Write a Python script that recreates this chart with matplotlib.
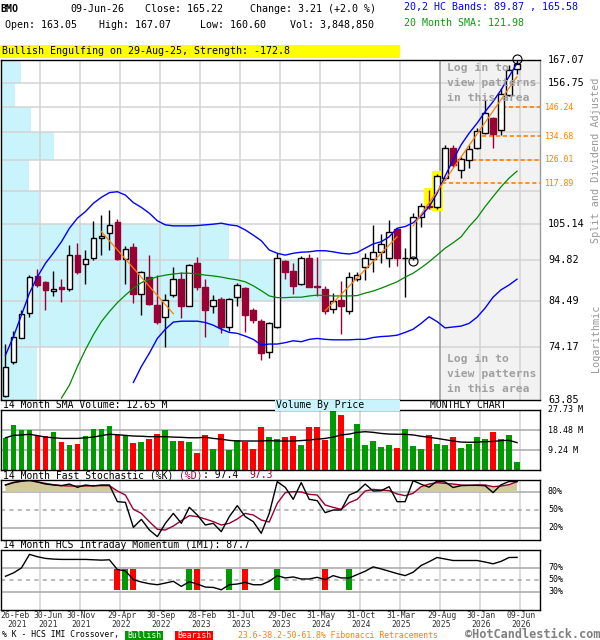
import matplotlib
matplotlib.use('Agg')
import matplotlib.pyplot as plt
from matplotlib.patches import Rectangle
from matplotlib.transforms import blended_transform_factory as btf
from matplotlib.ticker import NullLocator
import numpy as np

plt.rcParams['font.family'] = ['DejaVu Sans Mono']
plt.rcParams['lines.scale_dashes'] = False

# ---------------- data (monthly, Feb-2021 .. Jun-2026) ----------------
opens = [64.6, 71.0, 76.1, 81.6, 90.8, 89.2, 87.0, 88.0, 87.5, 96.2,
         93.7, 95.3, 101.0, 102.4, 105.6, 95.1, 98.4, 86.2, 90.5, 83.5,
         80.7, 86.0, 89.9, 83.3, 94.0, 87.8, 83.3, 85.0, 78.5, 85.4,
         87.7, 82.4, 79.9, 73.2, 78.5, 94.6, 92.0, 88.7, 95.5, 88.2,
         87.5, 82.7, 84.7, 82.2, 89.9, 93.0, 95.1, 97.1, 95.3, 103.5,
         95.3, 95.4, 107.3, 110.6, 110.1, 119.6, 130.3, 122.5, 126.0, 130.2,
         135.8, 141.9, 137.2, 151.3, 163.05]
highs = [74.9, 77.6, 82.3, 90.9, 92.6, 89.3, 92.0, 89.9, 98.9, 99.5,
         97.6, 105.8, 107.9, 109.3, 106.5, 98.8, 99.6, 92.0, 96.2, 90.9,
         86.3, 92.9, 91.8, 93.8, 95.8, 90.0, 86.0, 85.4, 85.2, 88.9,
         87.9, 82.8, 80.2, 79.7, 96.9, 94.9, 94.2, 95.9, 96.5, 95.6,
         88.1, 86.5, 89.5, 91.6, 91.6, 96.9, 104.8, 102.1, 106.3, 103.8,
         98.1, 108.4, 111.4, 115.5, 121.0, 131.4, 131.4, 127.0, 131.4, 138.0,
         149.2, 142.2, 154.2, 164.7, 167.07]
lows = [64.4, 70.7, 76.0, 80.8, 87.9, 82.3, 85.6, 84.2, 86.8, 91.3,
        88.7, 94.9, 96.2, 97.6, 94.9, 88.7, 83.9, 81.2, 83.5, 79.2,
        74.2, 85.4, 80.5, 83.2, 87.2, 76.2, 81.6, 77.1, 77.6, 83.3,
        77.4, 79.3, 71.5, 71.9, 78.2, 89.8, 86.2, 88.4, 87.8, 85.6,
        81.5, 81.6, 76.9, 81.4, 89.3, 89.7, 91.7, 94.0, 93.0, 93.3,
        85.4, 94.9, 104.1, 109.6, 109.5, 119.0, 123.6, 119.8, 123.0, 129.8,
        135.5, 130.1, 135.0, 150.8, 160.60]
closes = [70.1, 76.3, 81.4, 90.3, 88.3, 87.2, 87.3, 87.4, 96.2, 91.7,
          95.1, 101.0, 101.6, 104.9, 95.1, 97.8, 86.2, 91.7, 83.8, 79.7,
          84.7, 89.9, 83.2, 93.5, 87.9, 82.3, 84.7, 78.4, 85.0, 88.3,
          81.3, 80.1, 73.0, 79.3, 95.3, 91.8, 88.1, 95.3, 88.0, 87.9,
          82.2, 84.5, 83.4, 90.3, 91.0, 95.4, 97.0, 99.4, 102.7, 95.5,
          95.5, 107.2, 110.6, 110.3, 120.5, 130.1, 124.2, 126.2, 129.7, 136.6,
          144.0, 135.4, 151.9, 162.4, 165.22]

upper_band = [72.5, 76.4, 81.2, 86.4, 90.5, 94.0, 96.8, 99.9, 103.8, 106.8,
              108.8, 111.4, 113.3, 114.8, 115.1, 114.0, 111.6, 110.1, 108.3, 106.0,
              104.8, 104.5, 104.5, 104.5, 104.6, 104.8, 105.0, 105.3, 104.8, 104.5,
              103.3, 101.8, 100.2, 97.6, 96.7, 96.2, 96.7, 97.0, 97.1, 97.4,
              97.4, 97.1, 96.7, 96.5, 96.9, 98.1, 99.3, 99.9, 101.3, 103.8,
              104.3, 105.4, 107.5, 110.3, 114.6, 120.3, 125.9, 131.4, 135.8, 139.7,
              144.3, 148.5, 153.5, 159.4, 165.58]
lower_band_start = 16
lower_band = [67.1, 70.2, 72.9, 76.0, 78.0, 79.6, 79.8, 79.8, 79.8, 79.5,
              78.9, 78.0, 77.3, 77.1, 76.5, 75.8, 74.6, 74.8, 74.8, 75.1,
              75.5, 75.3, 75.8, 76.0, 75.8, 75.7, 75.7, 75.7, 75.8, 75.8,
              76.2, 76.4, 76.5, 76.7, 77.3, 78.0, 79.3, 80.8, 79.7, 78.3,
              78.5, 78.7, 79.3, 80.7, 82.8, 85.4, 87.2, 88.4, 89.87]
sma_start = 7
sma20 = [64.2, 66.6, 70.2, 73.6, 76.8, 79.7, 82.0, 84.1, 85.9, 87.6,
         89.0, 89.8, 90.5, 90.9, 91.2, 91.4, 91.4, 91.2, 90.9, 90.7,
         90.4, 90.0, 89.7, 89.2, 88.2, 87.0, 85.7, 85.3, 85.3, 85.4,
         85.4, 85.7, 85.9, 85.8, 85.7, 85.7, 85.7, 85.8, 86.4, 86.9,
         87.6, 88.4, 89.2, 90.4, 91.4, 92.8, 94.4, 96.2, 98.1, 99.6,
         101.3, 104.3, 106.9, 110.3, 113.5, 116.7, 119.6, 121.98]

# volume by price (relative), bands from 63.85 upward, step 10.32
vbp_volume = [37, 229, 322, 229, 39, 29, 54, 31, 15, 21]

volume_m = [14.9, 20.8, 18.5, 18.5, 15.7, 15.7, 17.6, 12.9, 11.6, 12.0,
            15.7, 18.9, 18.9, 20.3, 16.3, 15.7, 12.5, 12.9, 14.5, 16.6,
            18.5, 13.4, 13.4, 12.9, 7.9, 16.2, 9.7, 16.6, 9.2, 13.9,
            13.1, 9.7, 19.9, 15.2, 14.5, 15.2, 15.7, 11.6, 19.9, 19.9,
            13.9, 27.7, 25.4, 14.8, 21.3, 11.6, 13.4, 10.6, 11.6, 10.2,
            18.9, 11.1, 9.7, 16.2, 12.0, 11.6, 15.2, 10.2, 12.0, 15.2,
            14.3, 17.6, 14.3, 16.2, 3.85]
vol_sma_m = [14.9, 16.0, 16.2, 16.5, 15.9, 15.2, 14.9, 14.6, 14.6, 14.6,
             14.9, 15.2, 15.9, 16.5, 16.3, 16.0, 15.7, 15.6, 15.4, 15.4,
             15.4, 15.2, 15.1, 14.9, 14.9, 15.1, 14.6, 14.2, 13.7, 13.4,
             13.4, 13.4, 13.4, 13.6, 13.4, 13.4, 13.4, 13.6, 13.9, 14.2,
             14.6, 15.2, 16.2, 16.6, 17.4, 17.7, 17.4, 16.9, 16.6, 16.5,
             16.5, 16.2, 15.6, 15.1, 14.6, 14.0, 13.4, 12.9, 12.8, 12.9,
             13.1, 13.2, 13.6, 13.7, 12.65]

stoch_k = [91.7, 95.6, 98.3, 100.0, 96.7, 93.3, 91.7, 90.6, 93.3, 87.8,
           91.7, 90.0, 91.7, 91.7, 63.9, 62.8, 21.1, 34.4, 16.7, 5.6,
           27.8, 44.4, 27.8, 54.4, 41.7, 25.0, 27.8, 13.9, 38.9, 57.2,
           38.9, 30.6, 11.1, 44.4, 97.2, 87.8, 67.8, 95.6, 67.8, 65.6,
           45.6, 50.0, 50.0, 75.0, 80.6, 93.3, 81.7, 82.2, 88.9, 63.9,
           63.9, 98.9, 93.0, 88.0, 98.3, 96.7, 87.5, 90.6, 91.1, 91.1,
           90.5, 79.0, 92.0, 97.5, 97.4]
stoch_d = [91.7, 96.1, 97.8, 98.9, 96.7, 94.4, 92.2, 90.6, 90.0, 90.0,
           90.0, 90.6, 90.6, 90.6, 81.7, 75.0, 51.1, 44.4, 30.6, 17.8,
           16.7, 23.3, 32.2, 40.6, 38.9, 35.0, 30.6, 25.0, 27.8, 35.0,
           44.4, 41.7, 33.3, 30.0, 61.1, 78.9, 80.6, 80.0, 76.1, 75.0,
           58.3, 54.4, 51.1, 62.2, 67.8, 81.7, 84.4, 83.3, 82.2, 76.7,
           73.9, 77.8, 88.9, 93.3, 95.6, 94.4, 93.3, 91.7, 91.1, 91.7,
           91.7, 88.9, 90.0, 92.2, 97.3]
imi = [56.2, 61.8, 70.2, 92.7, 88.8, 86.0, 84.8, 84.3, 84.3, 84.3,
       84.3, 83.7, 83.1, 83.7, 67.4, 65.2, 50.6, 46.6, 43.8, 42.1,
       44.9, 47.8, 39.3, 47.2, 43.3, 38.2, 37.6, 33.7, 42.1, 43.3,
       46.1, 42.1, 42.1, 47.8, 57.3, 53.4, 55.1, 51.7, 51.7, 54.5,
       50.6, 57.3, 53.4, 53.4, 59.0, 64.6, 71.9, 68.5, 64.6, 60.7,
       57.3, 62.9, 74.2, 80.5, 87.5, 85.0, 82.5, 82.5, 82.5, 82.5,
       80.0, 77.0, 81.0, 87.5, 87.7]
xover_idx = [14, 15, 16, 23, 24, 28, 30, 34, 40, 43]
xover_kind = ['bear', 'bull', 'bear', 'bull', 'bear', 'bull', 'bear', 'bull', 'bear', 'bull']

fib_levels = [117.89, 126.01, 134.68, 146.24]
fib_start = [54.6, 57.5, 59.6, 62.1]
trend_lines = [(12, 102.8, 21, 81.5), (40, 82.2, 49, 101.3), (51, 104.5, 64, 159.4)]
pattern_circles = [(51, 94.6), (64, 167.4)]
engulf_idx = [53, 54]

price_labels = [167.07, 156.75, 105.14, 94.82, 84.49, 74.17, 63.85]
date_top = ['26-Feb', '30-Jun', '30-Nov', '29-Apr', '30-Sep', '28-Feb', '31-Jul',
            '29-Dec', '31-May', '31-Oct', '31-Mar', '29-Aug', '30-Jan', '09-Jun']
date_bot = ['2021', '2021', '2021', '2022', '2022', '2023', '2023',
            '2023', '2024', '2024', '2025', '2025', '2026', '2026']

# ---------------- colours ----------------
RED_C = '#990033'
VOL_G = '#009900'
VOL_R = '#ff0000'
BLUE = '#0000ff'
GREEN = '#008800'
ORANGE = '#ff8000'
CYAN = '#c9f4fb'
GRID = '#d3d3d3'
KHAKI = '#cfcb9b'

W, H = 600, 640
fig = plt.figure(figsize=(W / 100, H / 100), dpi=100)
fig.patch.set_facecolor('white')


def fx(x):
    return x / W


def fy(y):
    return 1 - y / H


XMIN, XMAX = -0.625, 66.875
vgrid = [5 * k - 0.625 for k in range(1, 14)]


def panel(x0, y0, x1, y1):
    a = fig.add_axes([fx(x0), fy(y1), fx(x1) - fx(x0), fy(y0) - fy(y1)])
    a.set_xlim(XMIN, XMAX)
    a.set_xticks([])
    a.set_yticks([])
    for s in a.spines.values():
        s.set_color('black')
        s.set_linewidth(1.0)
    return a


def ftext(x, y, s, **kw):
    kw.setdefault('va', 'center')
    kw.setdefault('ha', 'left')
    return fig.text(fx(x), fy(y), s, **kw)


def fbox(x0, y0, x1, y1, color):
    fig.add_artist(Rectangle((fx(x0), fy(y1)), fx(x1) - fx(x0), fy(y0) - fy(y1),
                             transform=fig.transFigure, color=color, lw=0))


n = len(closes)
idx = np.arange(n)

# ---------------- header ----------------
HS = 7.2
ftext(0, 9, 'BMO', fontsize=HS, fontweight='bold')
ftext(70, 9, '09-Jun-26', fontsize=HS)
ftext(145, 9, 'Close: 165.22', fontsize=HS)
ftext(250, 9, 'Change: 3.21 (+2.0 %)', fontsize=HS)
ftext(5, 25, 'Open: 163.05', fontsize=HS)
ftext(99, 25, 'High: 167.07', fontsize=HS)
ftext(200, 25, 'Low: 160.60', fontsize=HS)
ftext(290, 25, 'Vol: 3,848,850', fontsize=HS)
ftext(404, 7, '20,2 HC Bands: 89.87 , 165.58', fontsize=HS, color=BLUE)
ftext(404, 23, '20 Month SMA: 121.98', fontsize=HS, color='#119911')
fbox(0, 44.5, 400, 57.5, '#ffff00')
ftext(2, 51, 'Bullish Engulfing on 29-Aug-25, Strength: -172.8', fontsize=HS)

# ---------------- main price panel ----------------
ax = panel(0.5, 60, 540, 400)
ax.set_yscale('log')
ax.set_ylim(63.85, 167.07)
ax.yaxis.set_major_locator(NullLocator())
ax.yaxis.set_minor_locator(NullLocator())
ax.spines['right'].set_color('#999999')

grid = np.linspace(63.85, 167.07, 11)
login_x0 = vgrid[10]
ax.axvspan(login_x0, XMAX, color='#f2f2f2', lw=0, zorder=0.1)
bt = btf(ax.transAxes, ax.transData)
vmax = max(vbp_volume)
for k, v in enumerate(vbp_volume):
    ax.add_patch(Rectangle((0, grid[k]), v / vmax * 0.596, grid[k + 1] - grid[k],
                           transform=bt, color=CYAN, lw=0, zorder=0.3))
for g in grid[1:-1]:
    ax.axhline(g, color=GRID, lw=1.1, zorder=0.5)
for k, xv in enumerate(vgrid):
    if k == 10:
        ax.axvline(xv, color='#999999', lw=1.1, zorder=0.6)
    else:
        ax.axvline(xv, color=GRID, lw=1.1, zorder=0.5)

# engulfing highlight
for i in engulf_idx:
    lo = lows[i] / 1.004
    hi = highs[i] * 1.008
    ax.add_patch(Rectangle((i - 0.68, lo), 1.36, hi - lo, color='#ffff00', lw=0, zorder=1))

# candles
for i in range(n):
    o, h, l, c = opens[i], highs[i], lows[i], closes[i]
    up = c >= o
    col = 'black' if up else RED_C
    ax.vlines(i, l, h, color=col, lw=1.0, zorder=3)
    b0 = min(o, c)
    bh = max(abs(c - o), b0 * 0.002)
    ax.add_patch(Rectangle((i - 0.36, b0), 0.72, bh,
                           facecolor='white' if up else RED_C,
                           edgecolor=col, lw=1.0, zorder=4))

# bands / sma
ax.plot(idx, upper_band, color=BLUE, lw=1.0, zorder=5)
ax.plot(np.arange(lower_band_start, n), lower_band, color=BLUE, lw=1.0, zorder=5)
ax.plot(np.arange(sma_start, n), sma20, color=GREEN, lw=0.9, zorder=5)

# trend lines
for (i0, p0, i1, p1) in trend_lines:
    ax.plot([i0, i1], [p0, p1], color=ORANGE, lw=0.9, zorder=5)

# fibonacci
for lev, st in zip(fib_levels, fib_start):
    ax.hlines(lev, st, XMAX, colors=ORANGE, lw=1.2, linestyles=(0, (3, 2)), zorder=2)

# pattern circles
for (i, p) in pattern_circles:
    ax.plot(i, p, marker='o', ms=6.5, mfc='none', mec='black', mew=0.8,
            clip_on=False, zorder=7)

# login texts
for yy, s in zip([68, 83, 98, 359, 374, 389],
                 ['Log in to', 'view patterns', 'in this area'] * 2):
    ftext(447, yy, s, fontsize=8.2, fontweight='bold', color='#a0a0a0')

# price labels
for p in price_labels:
    ax.text(548 / 540, p, f'{p:.2f}', transform=bt, fontsize=7.3,
            va='center', ha='left')
for lev in fib_levels:
    ax.text(545 / 540, lev, f'{lev:.2f}', transform=bt, fontsize=5.9,
            va='center', ha='left', color=ORANGE)
ftext(596, 160, 'Split and Dividend Adjusted', fontsize=7.3, rotation=90,
      ha='center', color='#999999')
ftext(596, 338, 'Logarithmic', fontsize=7.3, rotation=90, ha='center', color='#999999')

# ---------------- titles between panels ----------------
TS = 7.0
ftext(3, 405, '14 Month SMA Volume: 12.65 M', fontsize=TS)
fbox(275, 400, 400, 411, CYAN)
ftext(276, 405.5, 'Volume By Price', fontsize=TS)
ftext(430, 405.5, 'MONTHLY CHART', fontsize=TS)

t = ftext(3, 475, '14 Month Fast Stochastic (%K) ', fontsize=TS)
fig.canvas.draw()
rend = fig.canvas.get_renderer()


def after(txt, s, color, gap=0.0):
    bb = txt.get_window_extent(renderer=rend)
    x_px = bb.x1 + gap
    return ftext(x_px, 475, s, fontsize=TS, color=color)


t2 = after(t, '(%D)', RED_C)
t3 = after(t2, ': 97.4  ', 'black')
after(t3, '97.3', RED_C)
ftext(3, 545, '14 Month HCS Intraday Momentum (IMI): 87.7', fontsize=TS)

LS = 6.0
# ---------------- volume panel ----------------
axv = panel(0.5, 410, 540, 470)
axv.set_ylim(0, 27.73)
for g in [9.24, 18.48]:
    axv.axhline(g, color='#a8a8a8', lw=1.1, zorder=0.5)
for xv in vgrid:
    axv.axvline(xv, color=GRID, lw=1.1, zorder=0.4)
vcols = [VOL_G if closes[i] >= opens[i] else VOL_R for i in range(n)]
axv.bar(idx, volume_m, width=0.72, color=vcols, lw=0, zorder=2)
axv.plot(idx, vol_sma_m, color='black', lw=1.0, zorder=3)
for v in [27.73, 18.48, 9.24]:
    axv.text(548 / 540, v, f'{v:.2f} M', transform=btf(axv.transAxes, axv.transData),
             fontsize=LS, va='center', ha='left')

# ---------------- stochastic panel ----------------
axs = panel(0.5, 480, 540, 540)
axs.set_ylim(0, 100)
for xv in vgrid:
    axs.axvline(xv, color=GRID, lw=1.1, zorder=0.4)
axs.axhline(80, color='#a8a8a8', lw=1.1, zorder=0.5)
axs.axhline(20, color='#a8a8a8', lw=1.1, zorder=0.5)
axs.axhline(50, color='#a8a8a8', lw=1.1, ls=(0, (3, 3)), zorder=0.5)
kd = np.array(stoch_d)
axs.fill_between(idx, 80, kd, where=kd >= 80, interpolate=True, color=KHAKI,
                 lw=0, zorder=1)
axs.plot(idx, stoch_d, color=RED_C, lw=1.0, zorder=3)
axs.plot(idx, stoch_k, color='black', lw=1.0, zorder=4)
for v in [80, 50, 20]:
    axs.text(548 / 540, v, f'{v}%', transform=btf(axs.transAxes, axs.transData),
             fontsize=LS, va='center', ha='left')

# ---------------- IMI panel ----------------
axi = panel(0.5, 550, 540, 610)
axi.set_ylim(0, 100)
for xv in vgrid:
    axi.axvline(xv, color=GRID, lw=1.1, zorder=0.4)
axi.axhline(70, color='#a8a8a8', lw=1.1, zorder=0.5)
axi.axhline(30, color='#a8a8a8', lw=1.1, zorder=0.5)
axi.axhline(50, color='#a8a8a8', lw=1.1, ls=(0, (3, 3)), zorder=0.5)
xcols = [VOL_G if k == 'bull' else VOL_R for k in xover_kind]
axi.bar(xover_idx, 35, bottom=33, width=0.75, color=xcols, lw=0, zorder=2)
axi.plot(idx, imi, color='black', lw=1.0, zorder=3)
for v in [70, 50, 30]:
    axi.text(548 / 540, v, f'{v}%', transform=btf(axi.transAxes, axi.transData),
             fontsize=LS, va='center', ha='left')

# ---------------- date labels ----------------
DS = 5.9
for k, (a, b) in enumerate(zip(date_top, date_bot)):
    if k == 0:
        ftext(0, 616, a, fontsize=DS, color='#333333')
        ftext(7, 624.5, b, fontsize=DS, color='#333333')
    else:
        xc = 48 if k == 1 else 40 * k + 1.5
        ftext(xc, 616, a, fontsize=DS, ha='center', color='#333333')
        ftext(xc, 624.5, b, fontsize=DS, ha='center', color='#333333')

# ---------------- footer ----------------
ftext(2, 635, '% K - HCS IMI Crossover,', fontsize=DS)
fbox(125, 630.5, 163, 639.5, VOL_G)
ftext(144, 635, 'Bullish', fontsize=DS, ha='center', color='white')
fbox(175, 630.5, 213, 639.5, VOL_R)
ftext(194, 635, 'Bearish', fontsize=DS, ha='center', color='white')
ftext(238, 635, '23.6-38.2-50-61.8% Fibonacci Retracements', fontsize=DS, color=ORANGE)
ftext(600, 634, '\u00a9HotCandlestick.com', fontsize=8.6, ha='right',
      fontweight='bold', color='#808080')

fig.savefig('out.png', dpi=100)
